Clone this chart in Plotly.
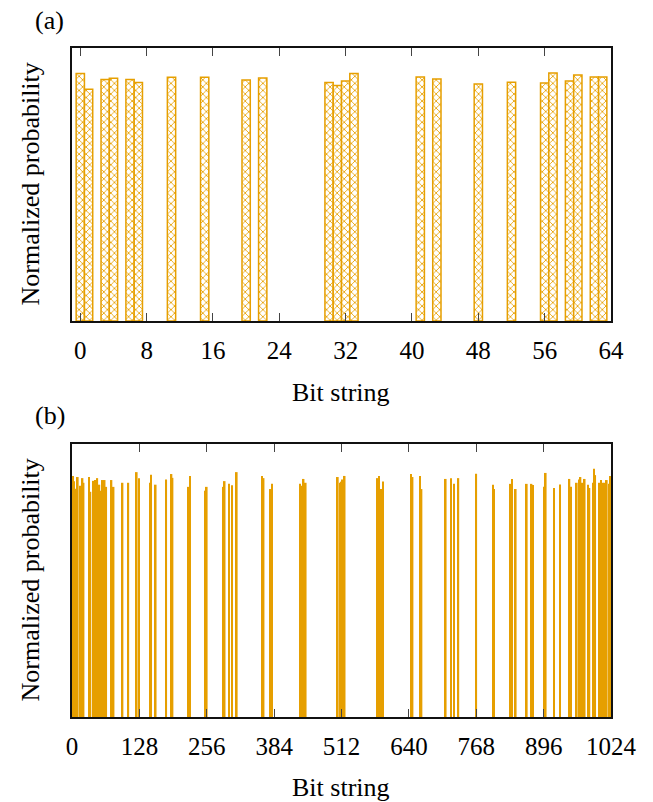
import plotly.graph_objects as go

# Panel (a): 6-qubit bit strings
a_x = [0, 1, 3, 4, 6, 7, 11, 15, 20, 22, 30, 31, 32, 33, 41, 43, 48, 52, 56, 57, 59, 60, 62, 63]
a_y = [0.907, 0.849, 0.885, 0.889, 0.885, 0.874, 0.893, 0.893, 0.883, 0.890, 0.874, 0.863,
       0.879, 0.907, 0.894, 0.886, 0.868, 0.875, 0.872, 0.908, 0.879, 0.901, 0.894, 0.894]
a_ticks = [0, 8, 16, 24, 32, 40, 48, 56, 64]

# Panel (b): 10-qubit bit strings
b_x = [2, 4, 7, 11, 15, 20, 22, 32, 35, 41, 44, 48, 52, 55, 58, 62, 65, 75, 79, 96, 107, 123, 127,
       148, 150, 159, 179, 189, 191, 221, 224, 254, 256, 288, 290, 298, 304, 313,
       361, 364, 377, 380, 433, 436, 440, 444, 505, 509, 512, 514, 518, 580, 583, 587, 591,
       644, 647, 661, 664, 710,
       720, 726, 734, 768, 800, 802, 833, 836, 843, 864, 873, 876, 897, 900, 916, 927, 945, 948,
       959, 963, 966, 970, 974, 980, 983, 990, 992, 994, 1002, 1005, 1008, 1012, 1016, 1020, 1023]
b_y = [0.883, 0.864, 0.836, 0.879, 0.847, 0.875, 0.858, 0.879, 0.825, 0.865, 0.868, 0.875, 0.851,
       0.829, 0.868, 0.868, 0.843, 0.868, 0.843, 0.858, 0.858, 0.897, 0.875,
       0.858, 0.887, 0.851, 0.870, 0.890, 0.876, 0.843, 0.883, 0.829, 0.843, 0.843, 0.864, 0.854,
       0.849, 0.897,
       0.883, 0.875, 0.835, 0.854, 0.854, 0.847, 0.872, 0.858, 0.879, 0.858, 0.862, 0.870, 0.883,
       0.875, 0.883, 0.835, 0.863,
       0.890, 0.879, 0.883, 0.835, 0.872,
       0.875, 0.854, 0.875, 0.891, 0.851, 0.835, 0.854, 0.872, 0.835, 0.854, 0.854, 0.850, 0.843,
       0.894, 0.839, 0.852, 0.872, 0.843,
       0.858, 0.870, 0.879, 0.858, 0.872, 0.851, 0.839, 0.858, 0.909, 0.886, 0.858, 0.868, 0.858,
       0.858, 0.868, 0.854, 0.883]
b_ticks = [0, 128, 256, 384, 512, 640, 768, 896, 1024]

ORANGE = "#E69F00"
FONT = "Liberation Serif, Times New Roman, serif"
W, H = 653, 802

def px(x):
    return x / W

def py(y):
    return 1 - y / H

fig = go.Figure()
fig.add_trace(go.Bar(
    x=a_x, y=a_y, width=1.0, xaxis="x", yaxis="y",
    marker=dict(color="white", line=dict(color=ORANGE, width=1.5),
                pattern=dict(shape="x", fgcolor=ORANGE, bgcolor="white", size=5,
                             solidity=0.3, fillmode="replace")),
    showlegend=False))
fig.add_trace(go.Bar(
    x=b_x, y=b_y, width=3.2, xaxis="x2", yaxis="y2",
    marker=dict(color=ORANGE, line=dict(width=0)),
    showlegend=False))

xdom = [px(72), px(611)]
common_x = dict(showgrid=False, zeroline=False, showline=True, linecolor="#111",
                linewidth=1.5, mirror="ticks", ticks="inside", ticklen=8, tickwidth=1.2,
                tickcolor="#444", tickfont=dict(family=FONT, size=25, color="black"),
                ticklabelstandoff=6, automargin=False)
common_y = dict(showgrid=False, zeroline=False, showline=True, linecolor="#111",
                linewidth=1.5, mirror=True, ticks="", showticklabels=False, range=[0, 1],
                automargin=False)

fig.update_layout(
    template="none",
    width=W, height=H, margin=dict(l=0, r=0, t=0, b=0, pad=0, autoexpand=False),
    autosize=False,
    paper_bgcolor="white", plot_bgcolor="white",
    font=dict(family=FONT, color="black"),
    xaxis=dict(domain=xdom, anchor="y", range=[-1, 64], tickvals=a_ticks, **common_x),
    yaxis=dict(domain=[py(321), py(48)], anchor="x", **common_y),
    xaxis2=dict(domain=xdom, anchor="y2", range=[0, 1024], tickvals=b_ticks, **common_x),
    yaxis2=dict(domain=[py(717), py(444)], anchor="x2", **common_y),
    barmode="overlay",
)

tf = dict(family=FONT, size=26, color="black")
ann = [
    dict(text="(a)", x=px(50), y=py(20)),
    dict(text="(b)", x=px(50), y=py(415)),
    dict(text="Bit string", x=px(341), y=py(392)),
    dict(text="Bit string", x=px(341), y=py(787)),
    dict(text="Normalized probability", x=px(30), y=py(184.5), textangle=-90),
    dict(text="Normalized probability", x=px(30), y=py(580.5), textangle=-90),
]
for a in ann:
    fig.add_annotation(xref="paper", yref="paper", showarrow=False, xanchor="center",
                       yanchor="middle", font=tf, **a)

fig.write_html(
    "out.html",
    config={"responsive": False, "displayModeBar": False},
    post_script="document.body.style.margin='0';document.body.style.padding='0';"
                "document.body.style.overflow='hidden';",
)
